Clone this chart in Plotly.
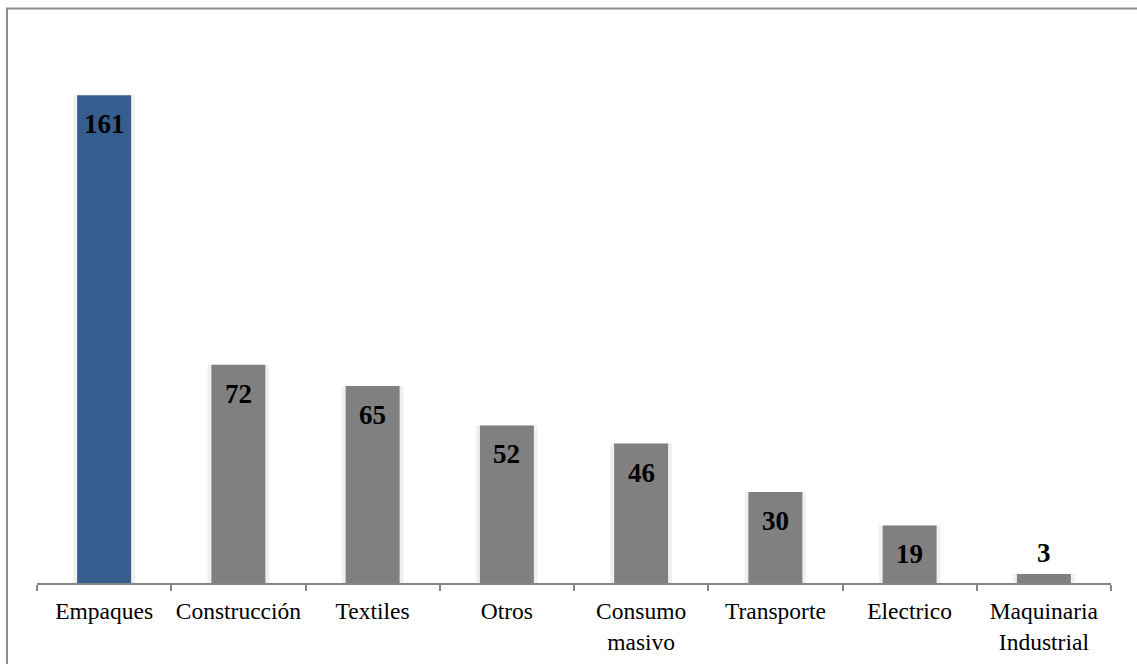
import plotly.graph_objects as go

# Sector breakdown
categories = ["Empaques", "Construcción", "Textiles", "Otros",
              "Consumo<br>masivo", "Transporte", "Electrico",
              "Maquinaria<br>Industrial"]
values = [161, 72, 65, 52, 46, 30, 19, 3]
bar_colors = ["#355E8E"] + ["#808080"] * 7

W, H = 1137, 664
ML, MR, MT, MB = 37, 26, 20, 81
PW, PH = W - ML - MR, H - MT - MB

SERIF = "'Times New Roman', 'Liberation Serif', 'DejaVu Serif', serif"

fig = go.Figure()

# soft halo behind each bar
fig.add_trace(go.Bar(
    x=categories, y=values, width=0.46,
    marker=dict(color="rgba(0,0,0,0.06)", line=dict(width=0)),
    hoverinfo="skip", showlegend=False,
))
fig.add_trace(go.Bar(
    x=categories, y=values, width=0.402,
    marker=dict(color=bar_colors, line=dict(width=0)),
    showlegend=False,
))

# value labels: inside the top of the bar, or above it when the bar is short
for cat, v in zip(categories, values):
    inside = v > 10
    fig.add_annotation(
        x=cat, y=v, text=f"<b>{v}</b>", showarrow=False,
        xref="x", yref="y", yanchor="middle",
        yshift=-29 if inside else 21,
        font=dict(family=SERIF, size=27, color="#000000"),
    )

# outer frame
fig.add_shape(
    type="rect", xref="paper", yref="paper",
    x0=(7 - ML) / PW, x1=(W + 5 - ML) / PW,
    y0=(MT + PH - (H + 5)) / PH, y1=(MT + PH - 8.5) / PH,
    line=dict(color="#8C8C8C", width=2), fillcolor="rgba(0,0,0,0)",
    layer="below",
)

fig.update_layout(
    width=W, height=H,
    margin=dict(l=ML, r=MR, t=MT, b=MB),
    paper_bgcolor="white", plot_bgcolor="white",
    barmode="overlay",
    font=dict(family=SERIF, size=23.5, color="#000000"),
    xaxis=dict(
        showline=True, linecolor="#868686", linewidth=1.5,
        ticks="outside", tickson="boundaries", ticklen=6,
        tickcolor="#868686", tickwidth=1.5,
        ticklabelstandoff=6, tickangle=0, automargin=False,
        showgrid=False, zeroline=False,
        tickfont=dict(family=SERIF, size=23.5, color="#000000"),
    ),
    yaxis=dict(
        range=[0, PH / 3.03], visible=False, showgrid=False, zeroline=False,
        automargin=False,
    ),
)

fig.write_html("out.html")
